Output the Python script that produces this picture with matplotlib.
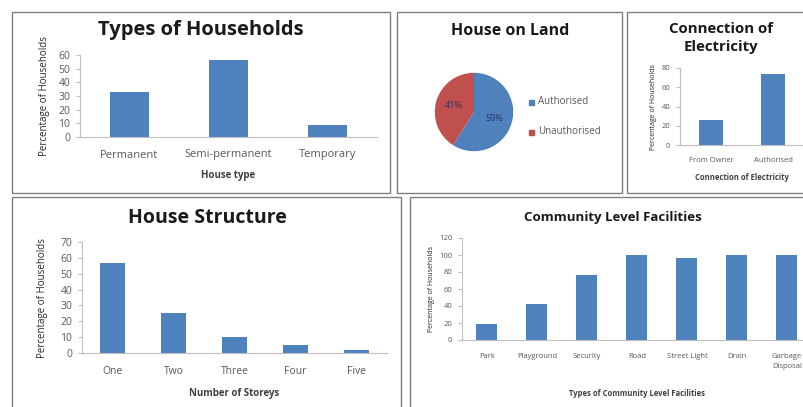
import matplotlib.pyplot as plt
from matplotlib.patches import Rectangle

W, H = 804, 407
BLUE = '#4F81BD'
RED = '#C0504D'
GRAY = '#595959'
plt.rcParams['font.family'] = ['Open Sans', 'DejaVu Sans']

house_types = ['Permanent', 'Semi-permanent', 'Temporary']
house_type_pct = [33, 56, 8.5]

land_labels = ['Authorised', 'Unauthorised']
land_pct = [59, 41]

elec_labels = ['From Owner', 'Authorised']
elec_pct = [26, 74]

storeys = ['One', 'Two', 'Three', 'Four', 'Five']
storey_pct = [57, 25, 10, 5, 2]

facilities = ['Park', 'Playground', 'Security', 'Road', 'Street Light', 'Drain', 'Garbage\nDisposal']
facility_pct = [19, 42, 77, 100, 96, 100, 100]

fig = plt.figure(figsize=(W / 100, H / 100), dpi=100)


def px_axes(x0, y0, x1, y1):
    return fig.add_axes([x0 / W, 1 - y1 / H, (x1 - x0) / W, (y1 - y0) / H])


def box(x0, y0, x1, y1):
    fig.patches.append(Rectangle((x0 / W, 1 - y1 / H), (x1 - x0) / W, (y1 - y0) / H,
                                 transform=fig.transFigure, fill=False,
                                 edgecolor='#7f7f7f', lw=1.0))


def bar_panel(ax, cats, vals, ymax, step, width, tick_fs, lab_fs):
    ax.bar(range(len(cats)), vals, width=width, color=BLUE)
    ax.set_xlim(-0.5, len(cats) - 0.5)
    ax.set_ylim(0, ymax)
    ax.set_yticks(range(0, ymax + 1, step))
    ax.set_xticks(range(len(cats)))
    ax.set_xticklabels(cats)
    for s in ['top', 'right']:
        ax.spines[s].set_visible(False)
    for s in ['left', 'bottom']:
        ax.spines[s].set_color('#bfbfbf')
        ax.spines[s].set_linewidth(0.8)
    ax.tick_params(axis='y', length=3, color='#bfbfbf', labelsize=tick_fs, labelcolor=GRAY, pad=4)
    ax.tick_params(axis='x', length=0, labelsize=lab_fs, labelcolor=GRAY, pad=9)


# boxes
box(12, 12, 390, 193)
box(397, 12, 622, 193)
box(627, 12, 810, 193)
box(12, 197, 401, 412)
box(410, 197, 810, 412)

# Types of Households
ax1 = px_axes(80, 55, 377, 137)
bar_panel(ax1, house_types, house_type_pct, 60, 10, 0.39, 7.5, 8)
ax1.set_ylabel('Percentage of Households', fontsize=7, color='#262626', labelpad=6)
ax1.set_xlabel('House type', fontsize=7, fontweight='bold', color='#404040', labelpad=7)
fig.text(201 / W, 1 - 30 / H, 'Types of Households', ha='center', va='center',
         fontsize=14.5, fontweight='bold', color='#1a1a1a')

# House on Land
ax2 = px_axes(434, 72, 514, 152)
ax2.pie(land_pct, colors=[BLUE, RED], startangle=90, counterclock=False,
        autopct=lambda p: '%d%%' % round(p), pctdistance=0.55,
        textprops={'fontsize': 6.5, 'color': '#1f3864'},
        wedgeprops={'linewidth': 0})
ax2.set_aspect('equal')
ax2.set_xlim(-1.02, 1.02)
ax2.set_ylim(-1.02, 1.02)
for i, (lab, c) in enumerate(zip(land_labels, [BLUE, RED])):
    fig.patches.append(Rectangle((529 / W, 1 - (105 + 30 * i) / H), 5 / W, 5 / H,
                                 transform=fig.transFigure, color=c))
    fig.text(538 / W, 1 - (102 + 30 * i) / H, lab, fontsize=7, color=GRAY, va='center')
fig.text(510 / W, 1 - 31 / H, 'House on Land', ha='center', va='center',
         fontsize=11.5, fontweight='bold', color='#1a1a1a')

# Connection of Electricity
ax3 = px_axes(680, 68, 804, 145)
bar_panel(ax3, elec_labels, elec_pct, 80, 20, 0.39, 5.5, 5.5)
ax3.set_ylabel('Percentage of Households', fontsize=5, color='#262626', labelpad=3)
ax3.set_xlabel('Connection of Electricity', fontsize=5.5, fontweight='bold', color='#404040', labelpad=6)
fig.text(721 / W, 1 - 38 / H, 'Connection of\nElectricity', ha='center', va='center',
         fontsize=10.8, fontweight='bold', color='#1a1a1a', linespacing=1.3)

# House Structure
ax4 = px_axes(82, 242, 387, 353)
bar_panel(ax4, storeys, storey_pct, 70, 10, 0.4, 7.5, 7.5)
ax4.set_ylabel('Percentage of Households', fontsize=7, color='#262626', labelpad=9)
ax4.set_xlabel('Number of Storeys', fontsize=7, fontweight='bold', color='#404040', labelpad=8)
fig.text(207 / W, 1 - 218 / H, 'House Structure', ha='center', va='center',
         fontsize=14, fontweight='bold', color='#1a1a1a')

# Community Level Facilities
ax5 = px_axes(462, 238, 812, 340)
bar_panel(ax5, facilities, facility_pct, 120, 20, 0.42, 5.5, 5.5)
for t in ax5.get_xticklabels():
    t.set_va('top')
    t.set_linespacing(1.6)
ax5.set_ylabel('Percentage of Households', fontsize=5, color='#262626', labelpad=3)
ax5.set_xlabel('Types of Community Level Facilities', fontsize=5.5, fontweight='bold',
               color='#404040', labelpad=14)
fig.text(613 / W, 1 - 217 / H, 'Community Level Facilities', ha='center', va='center',
         fontsize=9.5, fontweight='bold', color='#1a1a1a')

fig.savefig('out.png', dpi=100)
